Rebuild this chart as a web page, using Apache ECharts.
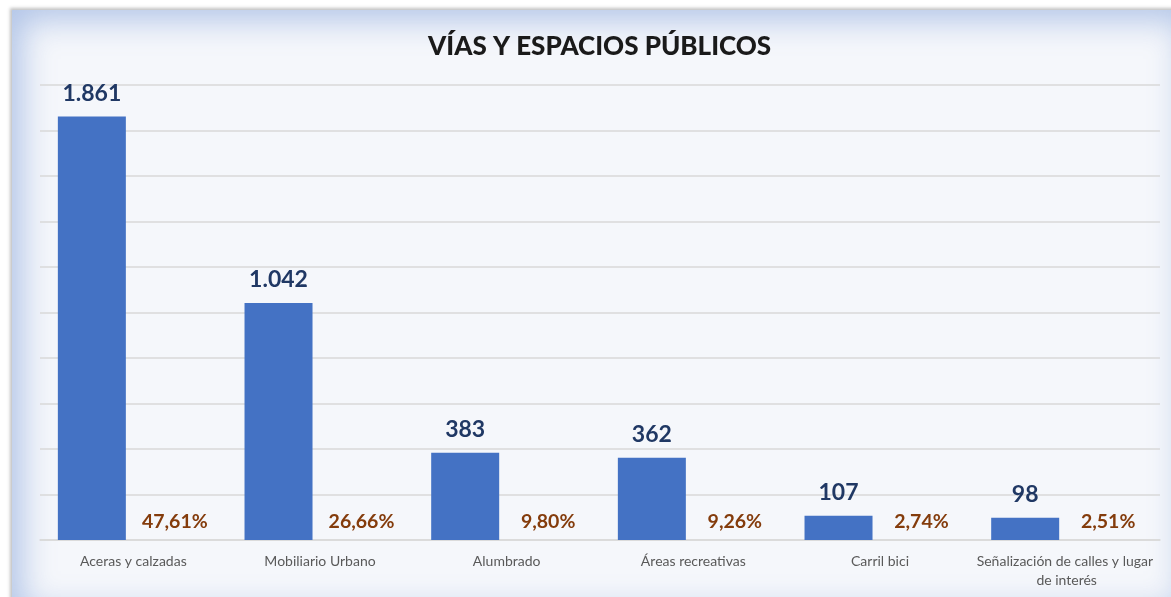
<!DOCTYPE html>
<html>
<head>
<meta charset="utf-8">
<script src="https://cdn.jsdelivr.net/npm/echarts@6/dist/echarts.min.js"></script>
<style>
  html, body { margin: 0; padding: 0; background: #ffffff; overflow: hidden; }
  #frame {
    position: absolute; left: 12px; top: 10px; width: 1180px; height: 610px;
    background: #F5F7FB;
    box-shadow: inset 0 0 32px 10px rgba(160, 184, 226, 0.8), -2px -2px 3px rgba(120,120,120,0.45);
  }
  #chart { position: absolute; left: 0; top: 0; width: 1171px; height: 597px; }
</style>
</head>
<body>
<div id="frame"></div>
<div id="chart"></div>
<script>
const title = 'VÍAS Y ESPACIOS PÚBLICOS';
const categories = ['Aceras y calzadas', 'Mobiliario Urbano', 'Alumbrado', 'Áreas recreativas', 'Carril bici', 'Señalización de calles y lugar de interés'];
const values = [1861, 1042, 383, 362, 107, 98];
const percents = [47.61, 26.66, 9.80, 9.26, 2.74, 2.51];
const percentBase = [0, 0, 0, 0, 0, 0];

function fmtThousands(v) {
  return String(v).replace(/\B(?=(\d{3})+(?!\d))/g, '.');
}
function fmtPct(p) {
  return p.toFixed(2).replace('.', ',') + '%';
}

const chart = echarts.init(document.getElementById('chart'), null, { renderer: 'canvas' });
chart.setOption({
  backgroundColor: 'transparent',
  animation: false,
  title: {
    text: title, left: 423, top: 29,
    textStyle: { fontFamily: 'Lato', fontWeight: 900, fontSize: 26, color: '#1a1a1a' }
  },
  grid: { left: 40, right: 11, top: 85, bottom: 57, containLabel: false },
  xAxis: {
    type: 'category', data: categories,
    axisLine: { show: true, lineStyle: { color: '#D9D9D9', width: 1.5 } },
    axisTick: { show: false },
    axisLabel: {
      interval: 0, margin: 12, width: 200, overflow: 'break',
      fontFamily: 'Lato', fontSize: 14, color: '#595959', lineHeight: 19
    }
  },
  yAxis: {
    type: 'value', min: 0, max: 2000, interval: 200,
    axisLine: { show: false }, axisTick: { show: false }, axisLabel: { show: false },
    splitLine: { lineStyle: { color: '#D9D9D9', width: 1.5 } }
  },
  series: [
    {
      type: 'bar', data: values, barWidth: 68, barGap: '22%',
      itemStyle: { color: '#4472C4' },
      label: {
        show: true, position: 'top', distance: 12,
        formatter: p => fmtThousands(p.value),
        fontFamily: 'Lato', fontWeight: 'bold', fontSize: 23, color: '#203864'
      }
    },
    {
      type: 'bar', data: percentBase, barWidth: 68,
      itemStyle: { color: 'transparent' },
      label: {
        show: true, position: 'top', distance: 8,
        formatter: p => fmtPct(percents[p.dataIndex]),
        fontFamily: 'Lato', fontWeight: 'bold', fontSize: 19.5, color: '#843C0C'
      }
    }
  ]
});
</script>
</body>
</html>
